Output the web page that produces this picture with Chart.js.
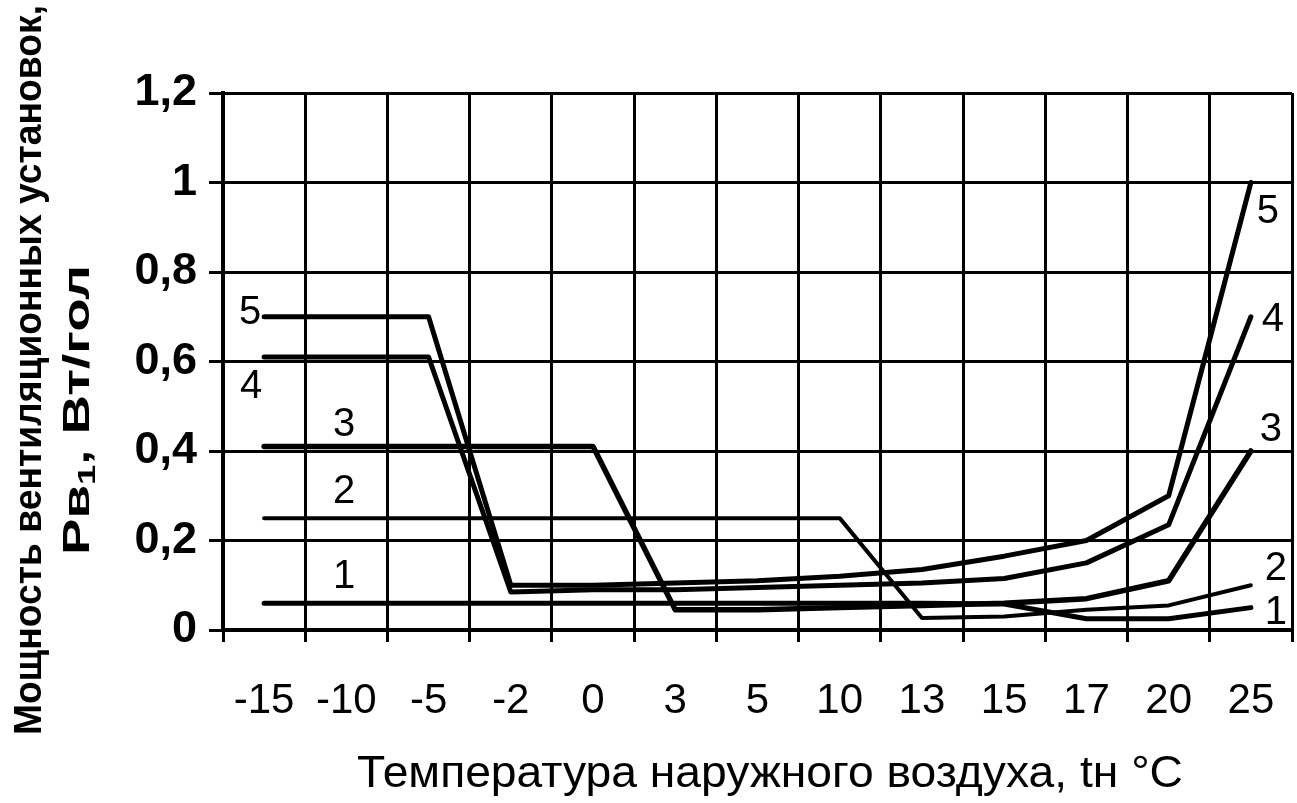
<!DOCTYPE html>
<html>
<head>
<meta charset="utf-8">
<script src="https://cdn.jsdelivr.net/npm/chart.js@4/dist/chart.umd.min.js"></script>
<style>
  html, body { margin: 0; padding: 0; background: #fff; }
  #wrap { width: 1297px; height: 803px; }
</style>
</head>
<body>
<div id="wrap"><canvas id="chart"></canvas></div>
<script>
// outdoor temperature categories and tick labels
const temps = ['-15', '-10', '-5', '-2', '0', '3', '5', '10', '13', '15', '17', '20', '25']
const yTicks = ['0', '0,2', '0,4', '0,6', '0,8', '1', '1,2']

// fan power, W per head, curves 1..5
const line1 = [0.06, 0.06, 0.06, 0.06, 0.06, 0.06, 0.06, 0.06, 0.06, 0.058, 0.025, 0.025, 0.05]
const line2 = [0.25, 0.25, 0.25, 0.25, 0.25, 0.25, 0.25, 0.25, 0.027, 0.03, 0.045, 0.055, 0.1]
const line3 = [0.41, 0.41, 0.41, 0.41, 0.41, 0.045, 0.045, 0.05, 0.055, 0.06, 0.07, 0.11, 0.4]
const line4 = [0.61, 0.61, 0.61, 0.085, 0.09, 0.09, 0.095, 0.1, 0.105, 0.115, 0.15, 0.235, 0.7]
const line5 = [0.7, 0.7, 0.7, 0.1, 0.1, 0.105, 0.11, 0.12, 0.135, 0.165, 0.2, 0.3, 1.0]

const xTitle = 'Температура наружного воздуха, tн °C'
const yTitle = 'Мощность вентиляционных установок,'

const font = '"Liberation Sans", Arial, sans-serif'

// where the curve numbers sit, relative to first / last point (px)
const leftOffsets = [[80, -26], [80, -26], [80, -22], [-13, 30], [-14, -4]]
const rightOffsets = [[25, 5], [25, -16], [20, -21], [22, 3], [17, 29]]

// draw centred text stretched (or squeezed) to a given width
function fitText(ctx, text, x, y, width) {
  const w = ctx.measureText(text).width
  ctx.save()
  ctx.translate(x, y)
  ctx.scale(width / w, 1)
  ctx.fillText(text, 0, 0)
  ctx.restore()
}

const annotate = {
  id: 'annotate',
  afterDatasetsDraw(chart) {
    const ctx = chart.ctx
    ctx.save()
    ctx.fillStyle = '#000'
    ctx.textAlign = 'center'
    ctx.textBaseline = 'middle'
    ctx.font = '40px ' + font
    chart.data.datasets.forEach((ds, i) => {
      const pts = chart.getDatasetMeta(i).data
      const a = pts[0], b = pts[pts.length - 1]
      ctx.fillText(ds.label, a.x + leftOffsets[i][0], a.y + leftOffsets[i][1])
      ctx.fillText(ds.label, b.x + rightOffsets[i][0], b.y + rightOffsets[i][1])
    })

    // x axis title
    ctx.font = '44px ' + font
    fitText(ctx, xTitle, 770, 775, 826)

    // y axis title, two lines rotated
    ctx.save()
    ctx.translate(31, 370)
    ctx.rotate(-Math.PI / 2)
    ctx.font = 'bold 38px ' + font
    fitText(ctx, yTitle, 0, 0, 730)
    ctx.restore()

    ctx.save()
    ctx.translate(79, 410)
    ctx.rotate(-Math.PI / 2)
    ctx.textAlign = 'left'
    const big = 'bold 36px ' + font, small = 'bold 24px ' + font
    ctx.font = big
    const w1 = ctx.measureText('Рв').width
    const w3 = ctx.measureText(', Вт/гол').width
    ctx.font = small
    const w2 = ctx.measureText('1').width
    const total = w1 + w2 + w3
    ctx.scale(290 / total, 1)
    let x = -total / 2
    ctx.font = big
    ctx.fillText('Рв', x, 0)
    x += w1
    ctx.font = small
    ctx.fillText('1', x, 9)
    x += w2
    ctx.font = big
    ctx.fillText(', Вт/гол', x, 0)
    ctx.restore()

    ctx.restore()
  }
}

const mk = (label, data, w) => ({
  label, data,
  borderColor: '#000',
  borderWidth: w,
  pointRadius: 0,
  tension: 0,
  borderJoinStyle: 'round',
  borderCapStyle: 'round',
  fill: false
})

new Chart(document.getElementById('chart'), {
  type: 'line',
  data: {
    labels: temps,
    datasets: [
      mk('1', line1, 5),
      mk('2', line2, 4),
      mk('3', line3, 5.5),
      mk('4', line4, 5),
      mk('5', line5, 5)
    ]
  },
  options: {
    responsive: true,
    maintainAspectRatio: false,
    animation: false,
    layout: { padding: { top: 93, right: 5, left: 0, bottom: 0 } },
    plugins: { legend: { display: false }, tooltip: { enabled: false } },
    scales: {
      x: {
        offset: true,
        grid: { offset: true, color: '#000', lineWidth: 3, tickLength: 12 },
        border: { color: '#000', width: 4 },
        ticks: { color: '#000', font: { size: 42, family: font }, padding: 34, maxRotation: 0, autoSkip: false },
        afterFit: s => {
          s.height = 173
          s.paddingLeft = 0
          s.paddingRight = 0
        }
      },
      y: {
        min: 0,
        max: 1.2,
        grid: { color: '#000', lineWidth: 3, tickLength: 14 },
        border: { color: '#000', width: 4 },
        ticks: {
          stepSize: 0.2,
          color: '#000',
          font: { size: 45, family: font, weight: 'bold' },
          padding: 12,
          callback: (v, i) => yTicks[i]
        },
        afterFit: s => { s.width = 223 }
      }
    }
  },
  plugins: [annotate]
})
</script>
</body>
</html>
